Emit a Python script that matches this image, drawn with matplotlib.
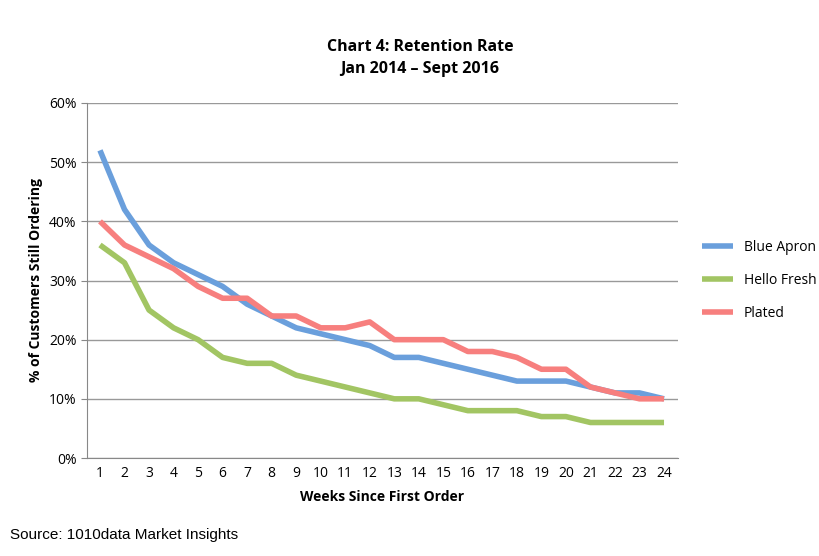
import matplotlib
matplotlib.use("Agg")
import matplotlib.pyplot as plt

weeks = list(range(1, 25))
blue_apron = [52,42,36,33,31,29,26,24,22,21,20,19,17,17,16,15,14,13,13,13,12,11,11,10]
hello_fresh = [36,33,25,22,20,17,16,16,14,13,12,11,10,10,9,8,8,8,7,7,6,6,6,6]
plated = [40,36,34,32,29,27,27,24,24,22,22,23,20,20,20,18,18,17,15,15,12,11,10,10]
yticks = [0,10,20,30,40,50,60]

plt.rcParams['font.family'] = ['Open Sans', 'DejaVu Sans']
fig = plt.figure(figsize=(8.2, 5.56), dpi=100)
ax = fig.add_axes([87/820, 98/556, 591/820, 355/556])
ax.plot(weeks, blue_apron, color='#6a9fdc', lw=4, label='Blue Apron', solid_capstyle='butt')
ax.plot(weeks, hello_fresh, color='#a2c563', lw=4, label='Hello Fresh', solid_capstyle='butt')
ax.plot(weeks, plated, color='#f77f7e', lw=4, label='Plated', solid_capstyle='butt')
ax.set_xlim(0.47, 24.57)
ax.set_ylim(0, 60)
ax.set_yticks(yticks)
ax.set_yticklabels([f"{v}%" for v in yticks], fontsize=10)
ax.set_xticks(weeks)
ax.tick_params(axis='x', labelsize=10, length=0, pad=6)
ax.tick_params(axis='y', length=4, color='#888888')
ax.grid(axis='y', color='#999999', lw=1)
ax.set_axisbelow(True)
for s in ['top', 'right']:
    ax.spines[s].set_visible(False)
ax.spines['left'].set_color('#888888')
ax.spines['bottom'].set_color('#888888')
ax.set_xlabel('Weeks Since First Order', fontsize=10, fontweight='bold', labelpad=6)
ax.set_ylabel('% of Customers Still Ordering', fontsize=10, fontweight='bold')
fig.text(420/820, 1-58/556, 'Chart 4: Retention Rate\nJan 2014 – Sept 2016', ha='center', va='center',
         fontsize=11.5, fontweight='bold', linespacing=1.5)
ax.legend(loc='center left', bbox_to_anchor=(1.02, 0.5), frameon=False, fontsize=10,
          handlelength=2.2, labelspacing=1.3)
fig.text(10/820, 1-535/556, 'Source: 1010data Market Insights', fontsize=11, va='center',
         family='Liberation Sans')
fig.savefig('out.png', dpi=100)
